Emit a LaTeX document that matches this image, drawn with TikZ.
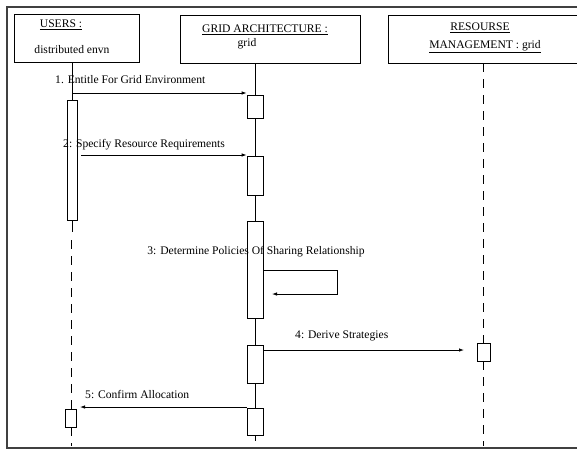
\documentclass[tikz,border=0pt]{standalone}
\usepackage{fontspec}
\setmainfont{Liberation Serif}
\usetikzlibrary{arrows.meta}
\begin{document}
\begin{tikzpicture}[x=1pt,y=-1pt,
  frame/.style={line width=1.2pt,draw=black!75},
  obj/.style={draw,line width=0.9pt,inner sep=0pt},
  act/.style={draw,line width=0.8pt,fill=white,inner sep=0pt},
  msg/.style={line width=0.8pt,-{Latex[length=5pt,width=3.5pt]}},
  lbl/.style={font=\fontsize{11.6}{13}\selectfont,inner sep=0pt},
  life/.style={line width=0.8pt},
  dlife/.style={line width=0.8pt,dash pattern=on 9pt off 7pt}]
\useasboundingbox (0,0) rectangle (577,451);
\clip (0,0) rectangle (577,451);

% diagram frame (open on the right)
\coordinate (ftr) at (577,7);
\coordinate (ftl) at (7,7);
\coordinate (fbl) at (7,448);
\coordinate (fbr) at (577,448);
\draw[frame] (ftr) -- (ftl) -- (fbl) -- (fbr);

% object boxes
\node[obj,minimum width=125pt,minimum height=48pt] (users) at (76.5,38) {};
\node[obj,minimum width=180pt,minimum height=48pt] (grid) at (270,39) {};
\node[obj,minimum width=204pt,minimum height=48pt] (rm) at (490,39) {};

\node[lbl] (usersT) at (61,25) {\underline{USERS :}};
\node[lbl] (usersS) at (72,50) {distributed envn};
\node[lbl] (gridT) at (265,30) {\underline{GRID ARCHITECTURE :}};
\node[lbl] (gridS) at (247,44) {grid};
\node[lbl] (rmT) at (480,28) {\underline{RESOURSE}};
\node[lbl] (rmS) at (485,47) {\underline{MANAGEMENT : grid}};

% activation bars
\node[act,minimum width=10pt,minimum height=120pt] (ua) at (72,160) {};
\node[act,minimum width=11pt,minimum height=18pt] (ub) at (71,418) {};
\node[act,minimum width=16pt,minimum height=23pt] (ga) at (255,106.5) {};
\node[act,minimum width=16pt,minimum height=39pt] (gb) at (255,175.5) {};
\node[act,minimum width=16pt,minimum height=97pt] (gc) at (255,269.5) {};
\node[act,minimum width=16pt,minimum height=38pt] (gd) at (255,364) {};
\node[act,minimum width=16pt,minimum height=27pt] (ge) at (255,421.5) {};
\node[act,minimum width=13pt,minimum height=18pt] (ra) at (483.5,352) {};

% lifelines
\coordinate (uDash) at (71,240);
\coordinate (uEnd) at (71,446);
\coordinate (gEnd) at (255,441);
\coordinate (rEnd) at (483.5,446);
\draw[life] (users.south -| ua) -- (ua.north);
\draw[life] (ua.south) -- ++(0,12);
\draw[dlife] (uDash) -- (ub.north);
\draw[dlife] (ub.south) -- (uEnd);
\draw[life] (grid.south -| ga) -- (ga.north);
\draw[life] (ga.south) -- (gb.north);
\draw[life] (gb.south) -- (gc.north);
\draw[life] (gc.south) -- (gd.north);
\draw[life] (gd.south) -- (ge.north);
\draw[life] (ge.south) -- (gEnd);
\draw[dlife] (rm.south -| ra) -- (ra.north);
\draw[dlife] (ra.south) -- (rEnd);

% messages
\coordinate (y93) at (0,93);
\coordinate (y155) at (0,155);
\coordinate (y270) at (0,270);
\coordinate (y350) at (0,350);
\coordinate (y407) at (0,407);
\coordinate (m1s) at (72,93);
\coordinate (m2s) at (81,155);
\coordinate (loopA) at (337,270);
\coordinate (loopB) at (337,294);
\coordinate (loopEnd) at (272,294);
\coordinate (m4e) at (464,350);
\coordinate (m5e) at (80,407);

\draw[msg] (m1s) -- (ga.west |- y93);
\draw[msg] (m2s) -- (gb.west |- y155);
\draw[msg] (gc.east |- y270) -- (loopA) -- (loopB) -- (loopEnd);
\draw[msg] (gd.east |- y350) -- (m4e);
\draw[msg] (ge.west |- y407) -- (m5e);

% message labels
\node[lbl,anchor=west] (l1) at (55,80) {1. Entitle For Grid Environment};
\node[lbl,anchor=west] (l2) at (63,145) {2: Specify Resource Requirements};
\node[lbl] (l3) at (256,252) {3: Determine Policies Of Sharing Relationship};
\node[lbl,anchor=west] (l4) at (295,336) {4: Derive Strategies};
\node[lbl,anchor=west] (l5) at (85,394) {5: Confirm Allocation};
\end{tikzpicture}
\end{document}
